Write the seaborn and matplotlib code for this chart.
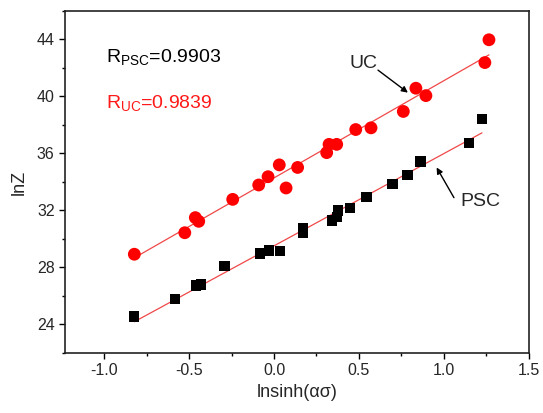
import numpy as np
import pandas as pd
import matplotlib
matplotlib.use("Agg")
import matplotlib.pyplot as plt
import seaborn as sns
from matplotlib.ticker import MultipleLocator

uc_x = [-0.822, -0.525, -0.463, -0.443, -0.243, -0.090, -0.035, 0.031, 0.071, 0.139,
        0.310, 0.324, 0.369, 0.481, 0.571, 0.761, 0.835, 0.894, 1.241, 1.265]
uc_y = [28.93, 30.44, 31.50, 31.24, 32.78, 33.79, 34.37, 35.20, 33.58, 35.02,
        36.06, 36.64, 36.64, 37.68, 37.80, 38.95, 40.58, 40.06, 42.38, 43.98]
psc_x = [-0.822, -0.581, -0.461, -0.429, -0.292, -0.084, -0.028, 0.035, 0.172, 0.172,
         0.343, 0.369, 0.378, 0.449, 0.545, 0.697, 0.786, 0.863, 1.147, 1.224]
psc_y = [24.56, 25.78, 26.73, 26.80, 28.10, 28.98, 29.19, 29.16, 30.44, 30.74,
         31.29, 31.52, 31.99, 32.19, 32.94, 33.86, 34.51, 35.44, 36.76, 38.42]
r_labels = ["R$_{\\mathrm{PSC}}$=0.9903", "R$_{\\mathrm{UC}}$=0.9839"]

sns.set_style("white")
plt.rcParams['font.family'] = ['Liberation Sans', 'DejaVu Sans']
plt.rcParams['mathtext.fontset'] = 'custom'
plt.rcParams['mathtext.rm'] = 'Liberation Sans'
plt.rcParams['mathtext.it'] = 'Liberation Sans:italic'

uc = pd.DataFrame({"x": uc_x, "y": uc_y})
psc = pd.DataFrame({"x": psc_x, "y": psc_y})

fig = plt.figure(figsize=(5.43, 4.13), dpi=100)
ax = fig.add_axes([0.1197, 0.1453, 0.974 - 0.1197, 0.9734 - 0.1453])

line_kw = dict(color="#f04848", lw=0.9)
sns.regplot(data=uc, x="x", y="y", scatter=False, ci=None, line_kws=line_kw, ax=ax)
sns.regplot(data=psc, x="x", y="y", scatter=False, ci=None, line_kws=line_kw, ax=ax)
sns.scatterplot(data=uc, x="x", y="y", color="#ff0000", marker="o", s=85,
                edgecolor="none", ax=ax, zorder=3)
sns.scatterplot(data=psc, x="x", y="y", color="black", marker="s", s=55,
                edgecolor="none", ax=ax, zorder=3)

ax.set_xlim(-1.23, 1.5)
ax.set_ylim(22, 46)
ax.xaxis.set_major_locator(MultipleLocator(0.5))
ax.xaxis.set_minor_locator(MultipleLocator(0.25))
ax.yaxis.set_major_locator(MultipleLocator(4))
ax.yaxis.set_minor_locator(MultipleLocator(2))
ax.set_xticks([-1.0, -0.5, 0.0, 0.5, 1.0, 1.5])
ax.set_xticklabels(["-1.0", "-0.5", "0.0", "0.5", "1.0", "1.5"])
ax.tick_params(which="major", direction="out", length=4, width=1, labelsize=11.5,
               bottom=True, left=True, top=False, right=False, color="black")
ax.tick_params(which="minor", direction="out", length=2.5, width=1,
               bottom=True, left=True, top=False, right=False, color="black")
for sp in ax.spines.values():
    sp.set_linewidth(1.2)
    sp.set_color("#222222")

ax.set_xlabel("lnsinh(ασ)", fontsize=13, labelpad=4)
ax.set_ylabel("lnZ", fontsize=13, labelpad=6)

ax.text(-0.99, 42.75, r_labels[0], fontsize=14, color="black", va="center", ha="left")
ax.text(-0.99, 39.55, r_labels[1], fontsize=14, color="#ff1a1a", va="center", ha="left")

ax.text(0.524, 42.33, "UC", fontsize=14, ha="center", va="center")
ax.annotate("", xy=(0.788, 40.27), xytext=(0.612, 41.85),
            arrowprops=dict(arrowstyle="-|>", color="black", lw=1, shrinkA=0, shrinkB=0,
                            mutation_scale=9))
ax.text(1.212, 32.65, "PSC", fontsize=14, ha="center", va="center")
ax.annotate("", xy=(0.957, 35.02), xytext=(1.059, 32.9),
            arrowprops=dict(arrowstyle="-|>", color="black", lw=1, shrinkA=0, shrinkB=0,
                            mutation_scale=9))

fig.savefig("out.png", dpi=100)
